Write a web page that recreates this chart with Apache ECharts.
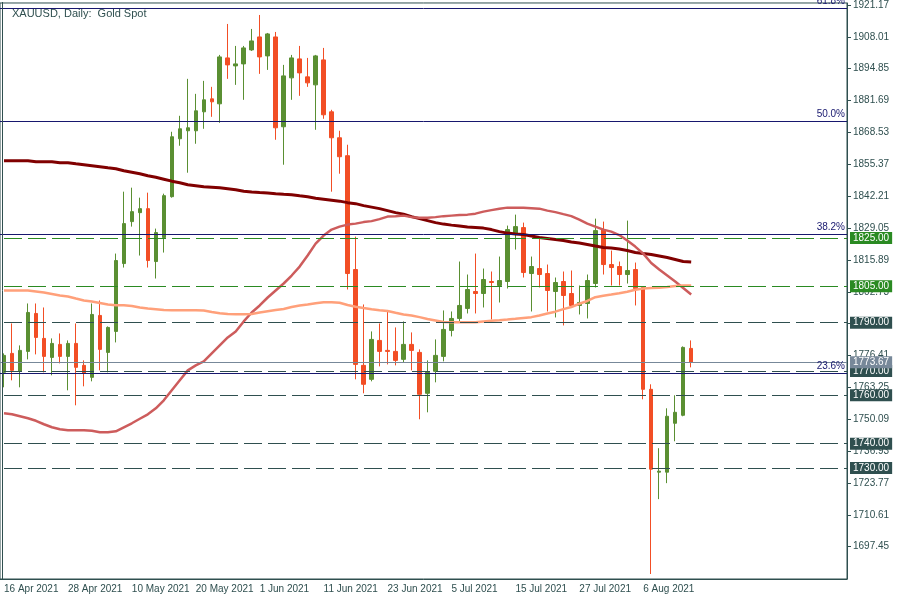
<!DOCTYPE html>
<html><head><meta charset="utf-8">
<script src="https://cdn.jsdelivr.net/npm/echarts@6/dist/echarts.min.js"></script>
<style>html,body{margin:0;padding:0;background:#fff}#c{width:900px;height:600px}</style>
</head><body><div id="c"></div>
<script>
const dates = ['16 Apr 2021','19 Apr 2021','20 Apr 2021','21 Apr 2021','22 Apr 2021','23 Apr 2021','26 Apr 2021','27 Apr 2021','28 Apr 2021','29 Apr 2021','30 Apr 2021',
'3 May 2021','4 May 2021','5 May 2021','6 May 2021','7 May 2021','10 May 2021','11 May 2021','12 May 2021','13 May 2021','14 May 2021',
'17 May 2021','18 May 2021','19 May 2021','20 May 2021','21 May 2021','24 May 2021','25 May 2021','26 May 2021','27 May 2021','28 May 2021','31 May 2021',
'1 Jun 2021','2 Jun 2021','3 Jun 2021','4 Jun 2021','7 Jun 2021','8 Jun 2021','9 Jun 2021','10 Jun 2021','11 Jun 2021',
'14 Jun 2021','15 Jun 2021','16 Jun 2021','17 Jun 2021','18 Jun 2021','21 Jun 2021','22 Jun 2021','23 Jun 2021','24 Jun 2021','25 Jun 2021',
'28 Jun 2021','29 Jun 2021','30 Jun 2021','1 Jul 2021','2 Jul 2021','5 Jul 2021','6 Jul 2021','7 Jul 2021','8 Jul 2021','9 Jul 2021',
'12 Jul 2021','13 Jul 2021','14 Jul 2021','15 Jul 2021','16 Jul 2021','19 Jul 2021','20 Jul 2021','21 Jul 2021','22 Jul 2021','23 Jul 2021',
'26 Jul 2021','27 Jul 2021','28 Jul 2021','29 Jul 2021','30 Jul 2021','2 Aug 2021','3 Aug 2021','4 Aug 2021','5 Aug 2021','6 Aug 2021',
'9 Aug 2021','10 Aug 2021','11 Aug 2021','12 Aug 2021','13 Aug 2021','16 Aug 2021'];
const emptySlots = 19;

const open = [1769.47,1777.30,1769.88,1778.12,1793.79,1783.48,1775.65,1781.01,1776.06,1781.42,
1772.35,1767.41,1792.97,1777.71,1786.37,1814.40,1831.72,1835.42,1837.07,1815.23,
1825.12,1842.02,1865.93,1869.23,1869.23,1877.06,1882.42,1880.36,1899.32,1896.02,
1896.85,1902.62,1907.98,1900.15,1907.98,1870.88,1891.08,1898.91,1891.49,1888.19,
1898.50,1877.06,1866.34,1858.94,1811.93,1772.35,1766.59,1782.66,1778.54,1778.12,
1774.83,1781.01,1777.71,1760.81,1769.88,1776.06,1786.78,1791.73,1795.85,1802.86,
1802.03,1806.98,1805.33,1806.98,1826.77,1829.24,1810.28,1812.34,1810.28,1802.86,
1806.98,1802.03,1797.09,1797.91,1806.16,1828.42,1813.99,1813.17,1809.87,1811.93,
1804.51,1762.46,1728.24,1728.24,1748.44,1751.74,1779.36];
const close = [1776.47,1770.29,1778.54,1794.20,1783.89,1776.06,1781.42,1776.06,1781.42,1771.53,
1769.06,1793.38,1778.95,1788.02,1815.64,1830.89,1835.84,1837.07,1815.64,1827.18,
1842.43,1866.76,1870.05,1870.46,1877.47,1882.01,1881.19,1899.73,1896.44,1896.85,
1903.45,1906.33,1899.73,1909.22,1870.46,1891.90,1899.32,1893.14,1889.02,1900.15,
1875.83,1866.34,1858.51,1810.28,1772.76,1764.53,1783.07,1778.12,1778.12,1774.41,
1781.01,1778.54,1760.40,1769.47,1776.47,1787.19,1791.73,1797.09,1803.68,1802.03,
1807.81,1806.57,1807.39,1828.42,1829.65,1810.69,1813.17,1809.87,1803.27,1806.57,
1801.21,1797.09,1798.32,1807.39,1828.00,1813.99,1812.75,1809.87,1811.52,1804.09,
1762.46,1729.48,1728.66,1751.33,1752.97,1779.77,1773.67];
const low = [1763.29,1766.17,1763.29,1774.83,1776.89,1769.47,1768.24,1773.17,1762.05,1755.86,
1763.70,1765.76,1770.29,1769.47,1781.83,1812.75,1829.65,1817.70,1812.75,1808.22,
1818.94,1841.61,1863.05,1851.91,1863.87,1870.05,1875.00,1872.53,1890.67,1888.19,
1882.01,1902.21,1892.73,1894.37,1865.52,1855.21,1882.01,1883.66,1887.37,1869.64,
1874.18,1844.08,1851.50,1803.68,1766.59,1760.81,1765.76,1771.94,1772.76,1772.35,
1773.59,1770.29,1750.09,1752.97,1765.35,1774.00,1784.31,1790.49,1793.79,1793.79,
1796.26,1791.31,1798.32,1804.09,1820.17,1808.63,1794.61,1804.51,1794.61,1792.14,
1788.84,1796.26,1793.38,1791.73,1804.51,1809.87,1805.33,1805.33,1806.16,1797.09,
1758.34,1686.19,1717.11,1723.71,1741.02,1751.33,1771.53];
const high = [1777.30,1789.67,1780.59,1797.91,1797.91,1796.26,1783.48,1785.54,1782.66,1789.67,
1774.41,1797.91,1799.15,1788.43,1818.52,1844.08,1845.73,1841.61,1843.67,1828.83,
1843.26,1868.82,1875.41,1890.67,1884.48,1889.84,1887.37,1900.56,1913.34,1904.27,
1904.27,1911.28,1917.05,1909.63,1910.04,1896.44,1900.56,1904.27,1899.32,1900.56,
1903.45,1877.89,1869.23,1863.46,1825.53,1797.50,1786.37,1789.67,1795.03,1788.02,
1790.49,1785.96,1778.95,1774.41,1783.07,1795.03,1794.61,1815.23,1809.87,1818.52,
1812.34,1811.11,1817.29,1830.07,1834.60,1831.30,1817.29,1825.12,1813.99,1808.63,
1811.11,1811.52,1805.33,1809.87,1832.95,1831.72,1819.76,1815.23,1832.13,1814.81,
1804.90,1764.53,1738.14,1754.62,1760.00,1780.18,1782.66];

const maSlow = [1856.86,1856.86,1856.86,1856.86,1856.45,1856.45,1856.45,1856.04,1856.04,1855.62,
1855.21,1854.80,1854.39,1853.97,1853.56,1852.74,1852.12,1851.50,1850.68,1850.06,
1849.24,1848.42,1847.79,1846.97,1846.56,1846.14,1845.94,1845.73,1845.32,1844.91,
1844.29,1843.96,1843.75,1843.55,1843.26,1843.05,1842.85,1842.43,1842.02,1841.40,
1840.99,1840.58,1840.17,1839.55,1839.14,1838.33,1837.70,1837.07,1836.25,1835.42,
1834.80,1833.78,1832.95,1832.13,1831.30,1830.69,1830.27,1829.86,1829.45,1829.24,
1829.03,1828.42,1827.59,1826.97,1826.56,1826.36,1825.74,1825.12,1824.71,1824.30,
1823.88,1823.26,1822.85,1822.23,1821.61,1821.00,1820.79,1820.38,1819.76,1818.94,
1818.52,1818.11,1817.49,1816.87,1816.05,1815.23,1815.02];
const maMid = [1752.56,1752.15,1751.33,1750.50,1749.47,1748.03,1746.79,1745.97,1745.56,1745.56,
1745.56,1745.35,1744.73,1744.73,1745.14,1746.79,1748.44,1750.30,1752.15,1754.63,
1757.92,1762.05,1766.17,1770.29,1772.35,1774.00,1777.30,1780.59,1783.89,1786.37,
1790.49,1794.20,1797.09,1800.38,1803.27,1806.16,1809.46,1813.16,1817.70,1822.65,
1825.94,1828.42,1829.65,1830.48,1830.89,1831.51,1831.92,1832.74,1833.78,1833.98,
1834.19,1833.57,1833.36,1833.36,1833.57,1833.98,1834.19,1834.40,1834.60,1835.01,
1835.84,1836.46,1837.07,1837.49,1837.49,1837.49,1837.28,1837.07,1836.25,1835.63,
1834.80,1833.98,1832.54,1830.89,1829.65,1828.42,1827.59,1826.15,1823.88,1821.41,
1818.52,1814.61,1811.93,1809.46,1806.98,1804.30,1801.62];
const maFast = [1803.27,1803.27,1803.27,1803.27,1802.86,1802.45,1801.83,1801.21,1800.80,1799.97,
1799.15,1798.74,1798.12,1797.50,1797.21,1797.21,1796.88,1796.26,1795.85,1795.56,
1795.23,1795.15,1795.15,1795.15,1795.15,1795.03,1794.41,1793.91,1793.58,1793.50,
1793.50,1793.58,1794.20,1794.74,1795.23,1795.64,1796.47,1797.09,1797.50,1798.03,
1798.45,1798.45,1798.20,1797.29,1796.59,1796.05,1795.52,1795.15,1794.82,1794.08,
1793.38,1792.97,1792.27,1791.52,1790.90,1790.28,1790.20,1790.20,1790.20,1790.20,
1790.49,1790.78,1791.03,1791.31,1791.60,1791.93,1792.27,1792.97,1793.79,1794.53,
1795.56,1796.47,1797.79,1798.94,1800.51,1801.13,1801.62,1802.16,1802.78,1803.56,
1804.09,1804.30,1804.38,1804.71,1805.12,1805.33,1805.33];

const yTicks = [1697.45,1710.61,1723.77,1736.93,1750.09,1763.25,1776.41,1789.57,1802.73,1815.89,1829.05,1842.21,1855.37,1868.53,1881.69,1894.85,1908.01,1921.17];
const yMin = 1684.13, yMax = 1922.0;

const fibLevels = [1919.93, 1873.35, 1826.7, 1769.3];
const fibNames = ['61.8%', '50.0%', '38.2%', '23.6%'];
const greenLevels = [1825, 1805];
const darkLevels = [1790, 1770, 1760, 1740, 1730];
const bidPrice = 1773.67;

const F = "'Liberation Sans',Arial,sans-serif";
const FS = 10;
const TXT = '#2F4F4F';
const NAVY = '#17176e';
const GREENL = '#2a8a22';
const BULL = '#5a8f32', BEAR = '#f24e25';

const cats = dates.concat(new Array(emptySlots).fill(''));
const candleData = open.map((o, i) => [o, close[i], low[i], high[i]]);
const showIdx = (i) => i % 8 === 0 && i < dates.length;

function levelLine(v, color, dashed, boxed, name) {
  return {
    yAxis: v,
    lineStyle: { color: color, width: 1, type: dashed ? [18, 6] : 'solid', dashOffset: dashed ? 20 : 0 },
    label: boxed ? {
      show: true, position: 'end', distance: 3, formatter: v.toFixed(2),
      backgroundColor: color, color: '#fff', fontFamily: F, fontSize: FS, lineHeight: 10,
      padding: [1, 3, 1, 3]
    } : {
      show: true, position: 'insideEndTop', distance: 2, formatter: name,
      color: NAVY, fontFamily: F, fontSize: FS
    }
  };
}
const marks = [];
fibLevels.forEach((v, i) => marks.push(levelLine(v, NAVY, false, false, fibNames[i])));
greenLevels.forEach(v => marks.push(levelLine(v, GREENL, true, true)));
darkLevels.forEach(v => marks.push(levelLine(v, TXT, true, true)));
marks.push(levelLine(bidPrice, '#778899', false, true));

const chart = echarts.init(document.getElementById('c'), null, { renderer: 'canvas' });
chart.setOption({
  animation: false,
  backgroundColor: '#ffffff',
  title: { text: 'XAUUSD, Daily:  Gold Spot', left: 7, top: 3,
    textStyle: { fontFamily: F, fontSize: 11, fontWeight: 'normal', color: TXT } },
  grid: { left: -1, right: 53, top: 2, bottom: 21, show: true, borderColor: TXT, borderWidth: 1, backgroundColor: 'transparent' },
  xAxis: {
    type: 'category', data: cats, boundaryGap: true,
    axisLine: { lineStyle: { color: TXT, width: 1 } },
    axisTick: { alignWithLabel: true, interval: showIdx, length: 4, lineStyle: { color: TXT } },
    axisLabel: { interval: showIdx, align: 'left', margin: 5, color: TXT, fontFamily: F, fontSize: FS },
    splitLine: { show: false }
  },
  yAxis: {
    type: 'value', position: 'right', min: yMin, max: yMax,
    axisLine: { show: true, lineStyle: { color: TXT, width: 1 } },
    axisTick: { show: true, customValues: yTicks, length: 4, lineStyle: { color: TXT } },
    axisLabel: { customValues: yTicks, formatter: v => v.toFixed(2), margin: 6, color: TXT, fontFamily: F, fontSize: FS },
    splitLine: { show: false }
  },
  graphic: [{ type: 'line', shape: { x1: 2.5, y1: 2, x2: 2.5, y2: 579 }, style: { stroke: TXT, lineWidth: 1 }, z: 10 }],
  series: [
    {
      type: 'candlestick', data: candleData, barWidth: 4, z: 2,
      itemStyle: { color: BULL, color0: BEAR, borderColor: BULL, borderColor0: BEAR, borderWidth: 1 },
      markLine: { symbol: 'none', silent: true, animation: false, z: 5, data: marks }
    },
    { type: 'line', data: maSlow, showSymbol: false, z: 3, lineStyle: { color: '#800000', width: 3 } },
    { type: 'line', data: maMid, showSymbol: false, z: 3, lineStyle: { color: '#cd5c5c', width: 2.5 } },
    { type: 'line', data: maFast, showSymbol: false, z: 3, lineStyle: { color: '#ffa07a', width: 2.5 } }
  ]
});
</script></body></html>
